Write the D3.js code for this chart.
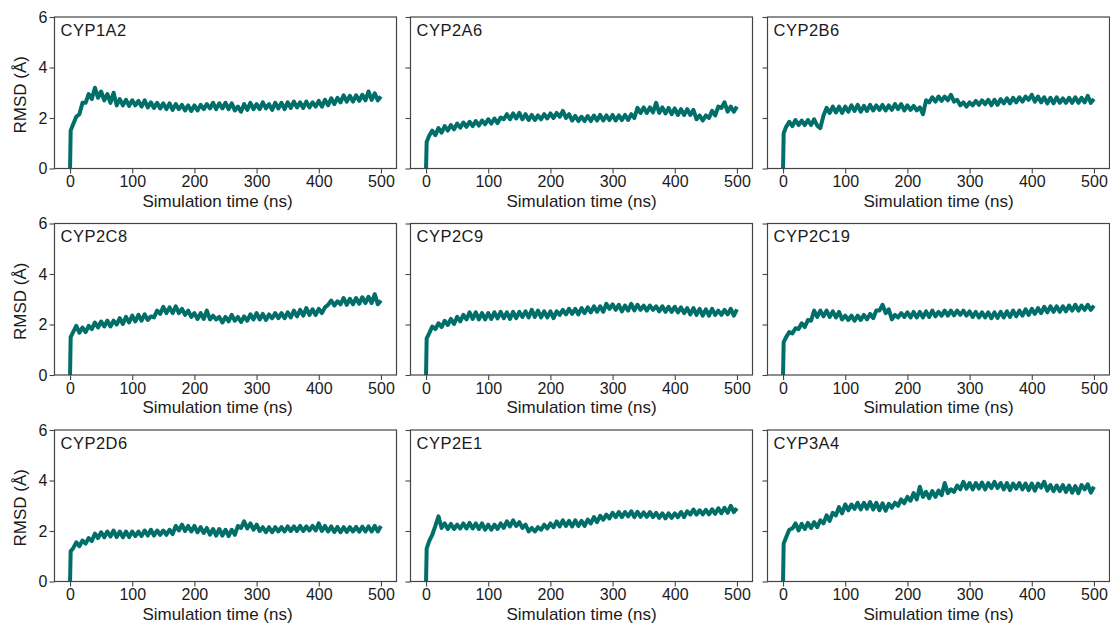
<!DOCTYPE html>
<html>
<head>
<meta charset="utf-8">
<script src="https://cdn.jsdelivr.net/npm/d3@7"></script>
<style>
  html, body { margin: 0; padding: 0; background: #fff; }
  svg { display: block; font-family: "Liberation Sans", Arial, sans-serif; }
</style>
</head>
<body>
<svg id="chart" width="1110" height="624"></svg>
<script>
// ---------- DATA ----------
const panelNames = ["CYP1A2", "CYP2A6", "CYP2B6", "CYP2C8", "CYP2C9", "CYP2C19", "CYP2D6", "CYP2E1", "CYP3A4"];
const xTicks = [0, 100, 200, 300, 400, 500];
const yTicks = [0, 2, 4, 6];
const times = [0, 1,
  5, 10, 15, 20, 25, 30, 35, 40, 45, 50,
  55, 60, 65, 70, 75, 80, 85, 90, 95, 100,
  105, 110, 115, 120, 125, 130, 135, 140, 145, 150,
  155, 160, 165, 170, 175, 180, 185, 190, 195, 200,
  205, 210, 215, 220, 225, 230, 235, 240, 245, 250,
  255, 260, 265, 270, 275, 280, 285, 290, 295, 300,
  305, 310, 315, 320, 325, 330, 335, 340, 345, 350,
  355, 360, 365, 370, 375, 380, 385, 390, 395, 400,
  405, 410, 415, 420, 425, 430, 435, 440, 445, 450,
  455, 460, 465, 470, 475, 480, 485, 490, 495, 500];

const rmsd_CYP1A2 = [0, 1.5,
  1.75, 2.05, 2.15, 2.6, 2.6, 2.95, 2.75, 3.2, 2.8, 3.05,
  2.7, 2.95, 2.6, 3.0, 2.5, 2.75, 2.5, 2.72, 2.48, 2.7,
  2.5, 2.68, 2.45, 2.7, 2.42, 2.62, 2.4, 2.6, 2.38, 2.58,
  2.35, 2.58, 2.32, 2.55, 2.35, 2.52, 2.3, 2.5, 2.28, 2.5,
  2.3, 2.52, 2.35, 2.55, 2.38, 2.6, 2.35, 2.58, 2.38, 2.6,
  2.35, 2.58, 2.3, 2.45, 2.25, 2.55, 2.32, 2.6, 2.35, 2.55,
  2.35, 2.62, 2.38, 2.55, 2.32, 2.6, 2.38, 2.6, 2.35, 2.62,
  2.4, 2.65, 2.42, 2.62, 2.4, 2.65, 2.42, 2.62, 2.45, 2.68,
  2.45, 2.72, 2.5, 2.78, 2.55, 2.8, 2.62, 2.9, 2.65, 2.88,
  2.65, 2.9, 2.68, 2.92, 2.7, 3.05, 2.72, 2.98, 2.7, 2.85];

const rmsd_CYP2A6 = [0, 1.05,
  1.3, 1.5, 1.32, 1.6, 1.42, 1.68, 1.5, 1.72, 1.55, 1.78,
  1.62, 1.82, 1.65, 1.85, 1.68, 1.88, 1.7, 1.9, 1.75, 1.95,
  1.78, 1.98, 1.8, 2.02, 1.95, 2.15, 1.95, 2.18, 1.98, 2.2,
  1.95, 2.15, 1.92, 2.12, 1.92, 2.1, 1.95, 2.15, 1.98, 2.18,
  2.0, 2.2, 2.05, 2.28, 2.0, 2.15, 1.9, 2.08, 1.88, 2.05,
  1.88, 2.08, 1.88, 2.1, 1.9, 2.12, 1.9, 2.1, 1.92, 2.12,
  1.9, 2.1, 1.92, 2.12, 1.92, 2.15, 2.0, 2.4, 2.2, 2.42,
  2.2, 2.42, 2.22, 2.6, 2.2, 2.42, 2.18, 2.4, 2.15, 2.38,
  2.12, 2.35, 2.12, 2.35, 2.12, 2.32, 1.95, 2.1, 1.9, 2.1,
  2.0, 2.28, 2.1, 2.45, 2.4, 2.62, 2.25, 2.45, 2.25, 2.45];

const rmsd_CYP2B6 = [0, 1.4,
  1.65, 1.85, 1.68, 1.92, 1.72, 1.9, 1.72, 1.92, 1.72, 1.95,
  1.7, 1.6, 2.1, 2.4, 2.2, 2.45, 2.22, 2.45, 2.2, 2.45,
  2.25, 2.5, 2.28, 2.52, 2.25, 2.48, 2.28, 2.52, 2.3, 2.5,
  2.32, 2.52, 2.3, 2.5, 2.32, 2.55, 2.35, 2.55, 2.3, 2.5,
  2.32, 2.48, 2.3, 2.42, 2.15, 2.7, 2.62, 2.82, 2.65, 2.85,
  2.68, 2.85, 2.7, 2.92, 2.65, 2.72, 2.5, 2.62, 2.45, 2.62,
  2.5, 2.68, 2.52, 2.7, 2.55, 2.72, 2.5, 2.72, 2.52, 2.75,
  2.58, 2.78, 2.58, 2.8, 2.62, 2.82, 2.65, 2.85, 2.72, 2.92,
  2.65, 2.85, 2.62, 2.82, 2.58, 2.8, 2.58, 2.82, 2.6, 2.78,
  2.6, 2.8, 2.6, 2.82, 2.6, 2.8, 2.62, 2.88, 2.6, 2.75];

const rmsd_CYP2C8 = [0, 1.5,
  1.7, 1.95, 1.68, 1.88, 1.7, 1.95, 1.82, 2.08, 1.88, 2.12,
  1.92, 2.15, 1.92, 2.15, 2.0, 2.25, 2.02, 2.3, 2.08, 2.35,
  2.12, 2.38, 2.15, 2.4, 2.18, 2.32, 2.28, 2.55, 2.42, 2.7,
  2.45, 2.68, 2.45, 2.72, 2.45, 2.62, 2.38, 2.55, 2.3, 2.45,
  2.22, 2.45, 2.22, 2.55, 2.2, 2.35, 2.2, 2.3, 2.08, 2.3,
  2.12, 2.38, 2.15, 2.3, 2.1, 2.32, 2.15, 2.4, 2.2, 2.45,
  2.2, 2.42, 2.18, 2.4, 2.25, 2.45, 2.25, 2.45, 2.25, 2.48,
  2.28, 2.55, 2.32, 2.58, 2.35, 2.65, 2.38, 2.6, 2.38, 2.62,
  2.45, 2.68, 2.78, 2.95, 2.75, 2.92, 2.8, 3.05, 2.78, 3.02,
  2.8, 3.05, 2.82, 3.08, 2.85, 3.1, 2.85, 3.2, 2.8, 2.95];

const rmsd_CYP2C9 = [0, 1.45,
  1.65, 1.92, 1.82, 2.05, 1.9, 2.15, 1.98, 2.22, 2.02, 2.3,
  2.12, 2.38, 2.2, 2.48, 2.22, 2.48, 2.2, 2.45, 2.2, 2.45,
  2.22, 2.48, 2.24, 2.5, 2.25, 2.48, 2.22, 2.5, 2.25, 2.5,
  2.3, 2.52, 2.28, 2.58, 2.3, 2.55, 2.28, 2.52, 2.28, 2.52,
  2.25, 2.52, 2.38, 2.58, 2.4, 2.62, 2.42, 2.62, 2.4, 2.65,
  2.45, 2.68, 2.48, 2.72, 2.5, 2.72, 2.5, 2.82, 2.62, 2.8,
  2.58, 2.78, 2.52, 2.75, 2.55, 2.82, 2.56, 2.78, 2.58, 2.75,
  2.55, 2.75, 2.58, 2.72, 2.52, 2.72, 2.5, 2.7, 2.5, 2.7,
  2.48, 2.68, 2.45, 2.65, 2.4, 2.65, 2.38, 2.62, 2.35, 2.6,
  2.35, 2.62, 2.38, 2.55, 2.38, 2.58, 2.4, 2.62, 2.35, 2.6];

const rmsd_CYP2C19 = [0, 1.3,
  1.5, 1.7, 1.65, 1.85, 1.82, 2.05, 1.9, 2.18, 2.15, 2.55,
  2.3, 2.55, 2.32, 2.55, 2.3, 2.52, 2.28, 2.5, 2.2, 2.35,
  2.18, 2.35, 2.15, 2.35, 2.18, 2.38, 2.2, 2.42, 2.25, 2.55,
  2.55, 2.78, 2.45, 2.6, 2.2, 2.38, 2.28, 2.45, 2.3, 2.48,
  2.28, 2.5, 2.28, 2.5, 2.28, 2.52, 2.3, 2.55, 2.32, 2.5,
  2.35, 2.55, 2.35, 2.55, 2.36, 2.55, 2.38, 2.55, 2.35, 2.52,
  2.3, 2.5, 2.28, 2.48, 2.28, 2.48, 2.25, 2.48, 2.26, 2.5,
  2.28, 2.52, 2.3, 2.55, 2.32, 2.55, 2.35, 2.6, 2.38, 2.62,
  2.42, 2.65, 2.45, 2.7, 2.48, 2.72, 2.5, 2.72, 2.5, 2.72,
  2.52, 2.75, 2.55, 2.78, 2.55, 2.75, 2.58, 2.78, 2.58, 2.75];

const rmsd_CYP2D6 = [0, 1.2,
  1.32, 1.55, 1.4, 1.62, 1.5, 1.72, 1.6, 1.9, 1.72, 1.95,
  1.75, 1.98, 1.78, 2.02, 1.76, 1.98, 1.75, 1.98, 1.76, 1.98,
  1.8, 1.98, 1.8, 2.02, 1.82, 2.05, 1.82, 2.02, 1.85, 2.02,
  1.85, 2.05, 1.88, 2.2, 2.02, 2.25, 2.0, 2.2, 1.98, 2.2,
  1.95, 2.15, 1.92, 2.12, 1.85, 2.08, 1.82, 2.08, 1.82, 2.05,
  1.8, 2.05, 1.85, 2.2, 2.12, 2.38, 2.1, 2.3, 2.05, 2.25,
  2.0, 2.15, 1.95, 2.15, 1.95, 2.15, 1.98, 2.15, 1.98, 2.18,
  2.0, 2.18, 2.0, 2.2, 2.0, 2.18, 2.02, 2.2, 2.02, 2.3,
  2.0, 2.2, 1.98, 2.18, 1.96, 2.16, 1.95, 2.15, 1.96, 2.15,
  1.98, 2.16, 1.97, 2.17, 1.98, 2.18, 1.98, 2.2, 1.98, 2.2];

const rmsd_CYP2E1 = [0, 1.3,
  1.6, 1.85, 2.2, 2.58, 2.12, 2.3, 2.08, 2.28, 2.08, 2.25,
  2.1, 2.3, 2.1, 2.32, 2.1, 2.3, 2.08, 2.3, 2.05, 2.25,
  2.05, 2.25, 2.08, 2.3, 2.12, 2.38, 2.18, 2.42, 2.2, 2.35,
  2.12, 2.25, 1.98, 2.12, 1.98, 2.15, 2.05, 2.25, 2.1, 2.3,
  2.15, 2.38, 2.18, 2.42, 2.2, 2.4, 2.18, 2.42, 2.2, 2.4,
  2.2, 2.45, 2.3, 2.55, 2.35, 2.6, 2.45, 2.65, 2.5, 2.72,
  2.55, 2.75, 2.55, 2.75, 2.58, 2.78, 2.55, 2.76, 2.56, 2.74,
  2.56, 2.75, 2.55, 2.72, 2.52, 2.7, 2.5, 2.7, 2.52, 2.7,
  2.55, 2.75, 2.55, 2.78, 2.65, 2.85, 2.65, 2.82, 2.66, 2.84,
  2.66, 2.86, 2.68, 2.9, 2.7, 2.92, 2.72, 3.0, 2.75, 2.9];

const rmsd_CYP3A4 = [0, 1.5,
  1.75, 2.05, 2.1, 2.3, 2.02, 2.28, 2.08, 2.32, 2.12, 2.35,
  2.15, 2.42, 2.3, 2.62, 2.4, 2.72, 2.62, 2.95, 2.7, 3.05,
  2.82, 3.05, 2.88, 3.12, 2.85, 3.12, 2.88, 3.15, 2.85, 3.12,
  2.82, 3.1, 2.8, 3.08, 2.92, 3.12, 3.0, 3.25, 3.1, 3.35,
  3.2, 3.5, 3.25, 3.75, 3.35, 3.55, 3.3, 3.58, 3.35, 3.6,
  3.42, 3.9, 3.5, 3.65, 3.55, 3.8, 3.65, 3.95, 3.68, 3.9,
  3.65, 3.9, 3.68, 3.92, 3.65, 3.9, 3.7, 3.95, 3.7, 3.9,
  3.65, 3.9, 3.62, 3.88, 3.68, 3.9, 3.65, 3.88, 3.62, 3.88,
  3.6, 3.88, 3.72, 3.95, 3.6, 3.82, 3.58, 3.8, 3.58, 3.82,
  3.55, 3.8, 3.52, 3.78, 3.5, 3.82, 3.65, 3.85, 3.52, 3.75];

const seriesList = [rmsd_CYP1A2, rmsd_CYP2A6, rmsd_CYP2B6, rmsd_CYP2C8, rmsd_CYP2C9,
                    rmsd_CYP2C19, rmsd_CYP2D6, rmsd_CYP2E1, rmsd_CYP3A4];

// ---------- LAYOUT ----------
const colX = [54.5, 410.5, 767.5];
const rowY = [17, 223.5, 430];
const pw = 342, ph = 151.5;
const lineColor = "#006e69";
const frameColor = "#444";
const textColor = "#1a1a1a";

const svg = d3.select("#chart");

panelNames.forEach((name, i) => {
  const c = i % 3, r = Math.floor(i / 3);
  const g = svg.append("g").attr("transform", `translate(${colX[c]},${rowY[r]})`);
  const x = d3.scaleLinear().domain([-25, 525]).range([0, pw]);
  const y = d3.scaleLinear().domain([0, 6]).range([ph, 0]);

  // x axis
  const xa = g.append("g").attr("transform", `translate(0,${ph})`)
    .call(d3.axisBottom(x).tickValues(xTicks).tickSize(5).tickPadding(2.5).tickFormat(d3.format("d")));
  xa.select(".domain").remove();
  xa.selectAll("line").attr("stroke", frameColor).attr("stroke-width", 1.1);
  xa.selectAll("text").attr("font-size", 16).attr("fill", textColor)
    .attr("font-family", "'Liberation Sans', Arial, sans-serif");

  // y axis
  const ya = g.append("g")
    .call(d3.axisLeft(y).tickValues(yTicks).tickSize(5).tickPadding(2).tickFormat(c === 0 ? d3.format("d") : () => ""));
  ya.select(".domain").remove();
  ya.selectAll("line").attr("stroke", frameColor).attr("stroke-width", 1.1);
  ya.selectAll("text").attr("font-size", 16).attr("fill", textColor)
    .attr("font-family", "'Liberation Sans', Arial, sans-serif");

  // data line
  const data = times.map((t, k) => [t, seriesList[i][k]]);
  const line = d3.line().x(d => x(d[0])).y(d => y(d[1]));
  g.append("path")
    .datum(data)
    .attr("fill", "none")
    .attr("stroke", lineColor)
    .attr("stroke-width", 4)
    .attr("stroke-linejoin", "round")
    .attr("stroke-linecap", "butt")
    .attr("d", line);

  // frame
  g.append("rect")
    .attr("x", 0).attr("y", 0).attr("width", pw).attr("height", ph)
    .attr("fill", "none").attr("stroke", frameColor).attr("stroke-width", 1.2);

  // panel title
  g.append("text")
    .attr("x", 6).attr("y", 18.5)
    .attr("font-size", 16.5).attr("letter-spacing", 0.5)
    .attr("fill", textColor)
    .text(name);

  // x label
  g.append("text")
    .attr("x", pw / 2 + (c === 0 ? -8 : 0)).attr("y", ph + 38)
    .attr("text-anchor", "middle")
    .attr("font-size", 17).attr("fill", textColor)
    .text("Simulation time (ns)");

  // y label
  if (c === 0) {
    svg.append("text")
      .attr("transform", `translate(26,${rowY[r] + ph / 2 + 2}) rotate(-90)`)
      .attr("text-anchor", "middle")
      .attr("font-size", 17).attr("fill", textColor)
      .text("RMSD (Å)");
  }
});
</script>
</body>
</html>
